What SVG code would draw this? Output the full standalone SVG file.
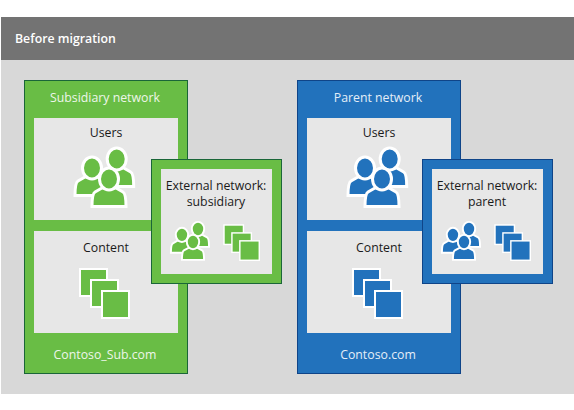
<svg xmlns="http://www.w3.org/2000/svg" xmlns:xlink="http://www.w3.org/1999/xlink" width="574" height="410" viewBox="0 0 574 410">
<style>
text{font-family:"Open Sans","Noto Sans","Liberation Sans",sans-serif;font-size:12.300px;text-anchor:middle;fill:#1a1a1a}
.lt{fill:#eef6ea}
.ltb{fill:#e4eef8}
.g{fill:#69bd45;stroke:#1a6638;stroke-width:1}
.b{fill:#2272bc;stroke:#0f4488;stroke-width:1}
.in{fill:#e7e7e7}
.gf{fill:#69bd45}
.bf{fill:#2272bc}
.p{stroke:#fff;stroke-width:3}
.s{stroke:#fff;stroke-width:2}
</style>
<defs>
<g id="person">
<path d="M-17 27.500C-17 21-16.500 14.500-14 13L-7 9H7L14 13C16.500 14.500 17 21 17 27.500Z"/>
<ellipse cx="0" cy="0" rx="9.500" ry="11"/>
</g>
<g id="people">
<use xlink:href="#person" href="#person" x="7.700" y="-20"/>
<use xlink:href="#person" href="#person" x="-17" y="-11"/>
<use xlink:href="#person" href="#person" x="0" y="0"/>
</g>
<g id="docs">
<rect x="0" y="0" width="27" height="27"/>
<rect x="11" y="11" width="27" height="27"/>
<rect x="22" y="22" width="27" height="27"/>
</g>
</defs>
<rect x="1" y="17" width="573" height="43" fill="#737373"/>
<rect x="1" y="60" width="573" height="334" fill="#d8d8d8"/>
<text x="15" y="43" style="text-anchor:start;font-weight:600;fill:#fff">Before migration</text>
<g id="connectors"/>
<g id="subsidiary-network">
<rect class="g" x="24.500" y="80.500" width="163" height="293"/>
<text class="lt" x="105" y="102">Subsidiary network</text>
<rect class="in" x="34" y="118" width="144" height="102"/>
<text x="106" y="137">Users</text>
<use xlink:href="#people" href="#people" transform="translate(109 179)" class="gf p"/>
<rect class="in" x="34" y="231" width="144" height="102"/>
<text x="106" y="252">Content</text>
<use xlink:href="#docs" href="#docs" transform="translate(80 269)" class="gf s"/>
<text class="lt" x="105" y="359">Contoso_Sub.com</text>
</g>
<g id="external-subsidiary">
<rect class="g" x="151.500" y="159.500" width="130" height="124"/>
<rect class="in" x="161" y="169" width="111" height="105"/>
<text x="216" y="190">External network:</text>
<text x="216" y="206">subsidiary</text>
<use xlink:href="#people" href="#people" transform="translate(193 242) scale(.65)" class="gf p"/>
<use xlink:href="#docs" href="#docs" transform="translate(224 225) scale(.72)" class="gf s"/>
</g>
<g id="parent-network">
<rect class="b" x="297.500" y="80.500" width="163" height="293"/>
<text class="ltb" x="378" y="102">Parent network</text>
<rect class="in" x="307" y="118" width="144" height="102"/>
<text x="379" y="137">Users</text>
<use xlink:href="#people" href="#people" transform="translate(382 179)" class="bf p"/>
<rect class="in" x="307" y="231" width="144" height="102"/>
<text x="379" y="252">Content</text>
<use xlink:href="#docs" href="#docs" transform="translate(353 269)" class="bf s"/>
<text class="ltb" x="378" y="359">Contoso.com</text>
</g>
<g id="external-parent">
<rect class="b" x="422.500" y="159.500" width="130" height="124"/>
<rect class="in" x="432" y="169" width="111" height="105"/>
<text x="487" y="190">External network:</text>
<text x="487" y="206">parent</text>
<use xlink:href="#people" href="#people" transform="translate(464 242) scale(.65)" class="bf p"/>
<use xlink:href="#docs" href="#docs" transform="translate(495 225) scale(.72)" class="bf s"/>
</g>
</svg>
